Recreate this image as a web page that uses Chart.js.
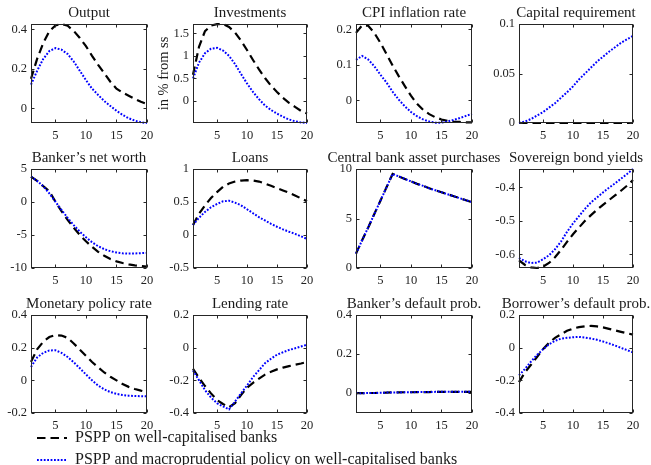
<!DOCTYPE html>
<html>
<head>
<meta charset="utf-8">
<script src="https://cdn.jsdelivr.net/npm/chart.js@4.4.0/dist/chart.umd.min.js"></script>
<style>
  html, body { margin: 0; padding: 0; background: #fff; overflow: hidden; width: 651px; height: 465px; }
  #fig { position: relative; width: 651px; height: 465px; overflow: hidden; }
  #fig canvas { position: absolute; }
</style>
</head>
<body>
<div id="fig"></div>
<script>
// ---- data (quarters 1..20) ----
var periods = [1, 2, 3, 4, 5, 6, 7, 8, 9, 10, 11, 12, 13, 14, 15, 16, 17, 18, 19, 20];
var xTicks = [5, 10, 15, 20];
var seriesNames = ['PSPP on well-capitalised banks', 'PSPP and macroprudential policy on well-capitalised banks'];
var titles = ['Output', 'Investments', 'CPI inflation rate', 'Capital requirement',
              'Banker\u2019s net worth', 'Loans', 'Central bank asset purchases', 'Sovereign bond yields',
              'Monetary policy rate', 'Lending rate', 'Banker\u2019s default prob.', 'Borrower\u2019s default prob.'];
var yLabel = 'in % from ss';

var outputPspp = [0.15, 0.25, 0.33, 0.39, 0.42, 0.427, 0.418, 0.392, 0.356, 0.315, 0.266, 0.22, 0.178, 0.135, 0.1, 0.08, 0.064, 0.048, 0.033, 0.022];
var outputMacro = [0.12, 0.19, 0.25, 0.29, 0.305, 0.297, 0.275, 0.237, 0.19, 0.143, 0.1, 0.068, 0.037, 0.012, -0.012, -0.033, -0.05, -0.062, -0.07, -0.074];
var investPspp = [0.58, 1.2, 1.55, 1.67, 1.705, 1.707, 1.64, 1.52, 1.34, 1.13, 0.91, 0.7, 0.51, 0.34, 0.2, 0.07, -0.04, -0.13, -0.22, -0.28];
var investMacro = [0.5, 0.85, 1.06, 1.16, 1.18, 1.12, 1.0, 0.82, 0.6, 0.39, 0.2, 0.04, -0.1, -0.2, -0.28, -0.35, -0.41, -0.45, -0.475, -0.488];
var cpiPspp = [0.19, 0.211, 0.21, 0.19, 0.162, 0.13, 0.098, 0.068, 0.04, 0.013, -0.01, -0.027, -0.039, -0.048, -0.054, -0.058, -0.06, -0.061, -0.062, -0.062];
var cpiMacro = [0.114, 0.125, 0.115, 0.096, 0.072, 0.05, 0.024, 0.002, -0.017, -0.033, -0.045, -0.054, -0.06, -0.063, -0.063, -0.06, -0.055, -0.05, -0.044, -0.038];
var capPspp = [0, 0, 0, 0, 0, 0, 0, 0, 0, 0, 0, 0, 0, 0, 0, 0, 0, 0, 0, 0];
var capMacro = [0, 0.0015, 0.004, 0.0075, 0.011, 0.0155, 0.02, 0.0255, 0.031, 0.037, 0.044, 0.05, 0.056, 0.062, 0.067, 0.072, 0.0765, 0.081, 0.0845, 0.088];
var worthPspp = [3.85, 3.2, 2.4, 1.65, 0.05, -1.4, -2.7, -3.9, -5.0, -5.95, -6.8, -7.55, -8.15, -8.65, -9.0, -9.25, -9.45, -9.6, -9.7, -9.8];
var worthMacro = [3.85, 3.2, 2.4, 1.3, 0.05, -1.2, -2.4, -3.5, -4.5, -5.35, -6.1, -6.7, -7.15, -7.45, -7.65, -7.78, -7.82, -7.8, -7.75, -7.7];
var loansPspp = [0.15, 0.32, 0.45, 0.56, 0.65, 0.73, 0.78, 0.81, 0.825, 0.83, 0.825, 0.81, 0.78, 0.745, 0.71, 0.675, 0.64, 0.6, 0.555, 0.51];
var loansMacro = [0.15, 0.26, 0.35, 0.42, 0.47, 0.51, 0.52, 0.49, 0.45, 0.39, 0.33, 0.27, 0.22, 0.17, 0.125, 0.085, 0.05, 0.018, -0.02, -0.06];
var cbPspp = [1.45, 2.8, 4.1, 5.45, 6.8, 8.15, 9.5, 9.25, 9.0, 8.75, 8.5, 8.3, 8.05, 7.85, 7.65, 7.45, 7.25, 7.05, 6.85, 6.65];
var cbMacro = [1.45, 2.8, 4.1, 5.45, 6.8, 8.15, 9.5, 9.25, 9.0, 8.75, 8.5, 8.3, 8.05, 7.85, 7.65, 7.45, 7.25, 7.05, 6.85, 6.65];
var bondPspp = [-0.618, -0.632, -0.639, -0.641, -0.637, -0.626, -0.609, -0.587, -0.563, -0.54, -0.52, -0.5, -0.483, -0.467, -0.452, -0.438, -0.424, -0.41, -0.395, -0.378];
var bondMacro = [-0.611, -0.621, -0.626, -0.625, -0.615, -0.603, -0.585, -0.562, -0.533, -0.508, -0.486, -0.464, -0.445, -0.43, -0.415, -0.401, -0.388, -0.374, -0.36, -0.345];
var mprPspp = [0.113, 0.19, 0.236, 0.265, 0.277, 0.274, 0.26, 0.226, 0.188, 0.15, 0.112, 0.08, 0.048, 0.022, 0.0, -0.023, -0.04, -0.053, -0.063, -0.072];
var mprMacro = [0.082, 0.14, 0.168, 0.183, 0.184, 0.168, 0.143, 0.11, 0.074, 0.036, 0.0, -0.032, -0.055, -0.072, -0.083, -0.09, -0.094, -0.096, -0.097, -0.098];
var lendPspp = [-0.129, -0.185, -0.235, -0.28, -0.32, -0.345, -0.365, -0.34, -0.29, -0.245, -0.215, -0.19, -0.165, -0.148, -0.133, -0.122, -0.113, -0.105, -0.097, -0.088];
var lendMacro = [-0.139, -0.2, -0.26, -0.305, -0.34, -0.36, -0.378, -0.33, -0.28, -0.232, -0.18, -0.138, -0.095, -0.068, -0.043, -0.028, -0.014, -0.004, 0.007, 0.018];
var bankDefPspp = [-0.003, -0.003, -0.002, -0.002, -0.001, 0, 0.001, 0.001, 0.002, 0.002, 0.003, 0.003, 0.003, 0.004, 0.004, 0.004, 0.004, 0.004, 0.004, 0.004];
var bankDefMacro = [-0.003, -0.003, -0.002, -0.002, -0.001, 0, 0.001, 0.001, 0.002, 0.002, 0.003, 0.003, 0.003, 0.004, 0.004, 0.004, 0.004, 0.004, 0.004, 0.004];
var borrDefPspp = [-0.211, -0.15, -0.105, -0.057, -0.01, 0.03, 0.06, 0.082, 0.103, 0.117, 0.126, 0.131, 0.133, 0.13, 0.124, 0.115, 0.106, 0.097, 0.088, 0.08];
var borrDefMacro = [-0.17, -0.13, -0.085, -0.045, -0.01, 0.02, 0.042, 0.055, 0.06, 0.064, 0.066, 0.062, 0.056, 0.048, 0.038, 0.026, 0.013, -0.001, -0.015, -0.029];

var yTicks = [[0, 0.2, 0.4], [0, 0.5, 1, 1.5], [0, 0.1, 0.2], [0, 0.05, 0.1],
              [-10, -5, 0, 5], [-0.5, 0, 0.5, 1], [0, 5, 10], [-0.6, -0.5, -0.4],
              [-0.2, 0, 0.2, 0.4], [-0.4, -0.2, 0, 0.2], [0, 0.2, 0.4], [-0.4, -0.2, 0, 0.2]];
var yMin = [-0.074, -0.488, -0.064, 0, -10, -0.5, 0, -0.641, -0.2, -0.4, -0.105, -0.4];
var yMax = [0.427, 1.707, 0.215, 0.1, 5, 1, 10, -0.345, 0.4, 0.2, 0.4, 0.2];

var psppSeries = [outputPspp, investPspp, cpiPspp, capPspp, worthPspp, loansPspp, cbPspp, bondPspp, mprPspp, lendPspp, bankDefPspp, borrDefPspp];
var macroSeries = [outputMacro, investMacro, cpiMacro, capMacro, worthMacro, loansMacro, cbMacro, bondMacro, mprMacro, lendMacro, bankDefMacro, borrDefMacro];

// ---- look ----
var ink = '#262626';
var blackStyle = { borderColor: '#000000', borderDash: [8.5, 5], borderWidth: 2.2 };
var blueStyle = { borderColor: '#0000ff', borderDash: [1.8, 1.6], borderWidth: 2 };

Chart.defaults.font.family = "'Liberation Serif', 'Times New Roman', serif";
Chart.defaults.color = '#1f1f1f';

var plotLeft = [31, 193, 356, 519];
var plotWidth = [116, 114, 116, 114];
var plotTop = [24, 169, 315];
var plotHeight = [99, 99, 98];
var titleH = 20, axisH = 24;

// matlab style box with inward ticks on all four sides
var boxTicks = {
  id: 'boxTicks',
  afterDatasetsDraw: function(chart) {
    var a = chart.chartArea, ctx = chart.ctx, xs = chart.scales.x, ys = chart.scales.y;
    var L = Math.round(a.left) + 0.5, R = Math.round(a.right) - 0.5;
    var T = Math.round(a.top) + 0.5, B = Math.round(a.bottom) - 0.5;
    ctx.save();
    ctx.setLineDash([]);
    ctx.strokeStyle = ink;
    ctx.lineWidth = 1;
    ctx.strokeRect(L, T, R - L, B - T);
    ctx.beginPath();
    xs.ticks.forEach(function(t) {
      var p = Math.round(xs.getPixelForValue(t.value)) + 0.5;
      ctx.moveTo(p, B); ctx.lineTo(p, B - 3);
      ctx.moveTo(p, T); ctx.lineTo(p, T + 3);
    });
    ys.ticks.forEach(function(t) {
      var p = Math.round(ys.getPixelForValue(t.value)) + 0.5;
      ctx.moveTo(L, p); ctx.lineTo(L + 3, p);
      ctx.moveTo(R, p); ctx.lineTo(R - 3, p);
    });
    ctx.stroke();
    ctx.restore();
  }
};

function zeroPad(s) {
  s.paddingLeft = 0; s.paddingRight = 0; s.paddingTop = 0; s.paddingBottom = 0;
}

function points(vals) {
  return periods.map(function(p, k) { return { x: p, y: vals[k] }; });
}

var fig = document.getElementById('fig');

function makePanel(i) {
  var row = Math.floor(i / 4), col = i % 4;
  var margin = (i === 1) ? 38 : 36;
  var cv = document.createElement('canvas');
  var w = plotWidth[col] + 2 * margin, h = titleH + plotHeight[row] + axisH;
  cv.width = w; cv.height = h;
  cv.style.left = (plotLeft[col] - margin) + 'px';
  cv.style.top = (plotTop[row] - titleH) + 'px';
  cv.style.width = w + 'px'; cv.style.height = h + 'px';
  fig.appendChild(cv);

  var ticksY = yTicks[i];
  new Chart(cv.getContext('2d'), {
    type: 'line',
    data: {
      datasets: [
        Object.assign({ label: seriesNames[1], data: points(macroSeries[i]), pointRadius: 0, fill: false, tension: 0, clip: 3 }, blueStyle),
        Object.assign({ label: seriesNames[0], data: points(psppSeries[i]), pointRadius: 0, fill: false, tension: 0, clip: 3 }, blackStyle)
      ]
    },
    options: {
      responsive: false,
      animation: false,
      devicePixelRatio: 1,
      events: [],
      layout: { padding: 0 },
      plugins: {
        legend: { display: false },
        tooltip: { enabled: false },
        title: {
          display: true, text: titles[i], fullSize: true,
          font: { size: 15, weight: 'normal' }, padding: { top: 0, bottom: 2 }, color: '#1a1a1a'
        }
      },
      scales: {
        x: {
          type: 'linear', min: 1, max: 20,
          grid: { display: false, drawTicks: false }, border: { display: false },
          ticks: { autoSkip: false, maxRotation: 0, padding: 5, font: { size: 12.5 },
                   callback: function(v) { return String(v); } },
          afterBuildTicks: function(s) { s.ticks = xTicks.map(function(v) { return { value: v }; }); },
          afterFit: function(s) { s.height = axisH; zeroPad(s); }
        },
        y: {
          type: 'linear', min: yMin[i], max: yMax[i],
          grid: { display: false, drawTicks: false }, border: { display: false },
          title: { display: i === 1, text: yLabel, font: { size: 14.5 }, padding: 0, color: '#1a1a1a' },
          ticks: { autoSkip: false, padding: 4, font: { size: 12.5 },
                   callback: function(v) { return String(v); } },
          afterBuildTicks: function(s) { s.ticks = ticksY.map(function(v) { return { value: v }; }); },
          afterFit: function(s) { s.width = margin; zeroPad(s); }
        },
        // empty right-hand axis: keeps the plot centred under the title
        yRight: {
          type: 'linear', position: 'right', display: true,
          grid: { display: false, drawTicks: false }, border: { display: false },
          ticks: { display: false },
          afterFit: function(s) { s.width = margin; zeroPad(s); }
        }
      }
    },
    plugins: [boxTicks]
  });
}

for (var i = 0; i < 12; i++) makePanel(i);

// legend below the grid
var legendSets = [Object.assign({ label: seriesNames[0], data: [] }, blackStyle),
                  Object.assign({ label: seriesNames[1], data: [] }, blueStyle)];
var lg = document.createElement('canvas');
lg.width = 480; lg.height = 110;
lg.style.left = '31px'; lg.style.top = '424px';
lg.style.width = '480px'; lg.style.height = '110px';
fig.appendChild(lg);
new Chart(lg.getContext('2d'), {
  type: 'line',
  data: { datasets: legendSets },
  options: {
    responsive: false,
    animation: false,
    devicePixelRatio: 1,
    events: [],
    layout: { padding: 0 },
    scales: { x: { display: false }, y: { display: false } },
    plugins: {
      tooltip: { enabled: false },
      legend: {
        display: true, position: 'top', align: 'start',
        labels: {
          usePointStyle: true, pointStyle: 'line', pointStyleWidth: 30, padding: 6,
          font: { size: 16 }, color: '#1a1a1a',
          generateLabels: function(chart) {
            return chart.data.datasets.map(function(ds, k) {
              return { text: ds.label, datasetIndex: k, hidden: false, pointStyle: 'line',
                       strokeStyle: ds.borderColor, fillStyle: ds.borderColor,
                       lineWidth: ds.borderWidth, lineDash: ds.borderDash, fontColor: '#1a1a1a' };
            });
          }
        }
      }
    }
  }
});
</script>
</body>
</html>
